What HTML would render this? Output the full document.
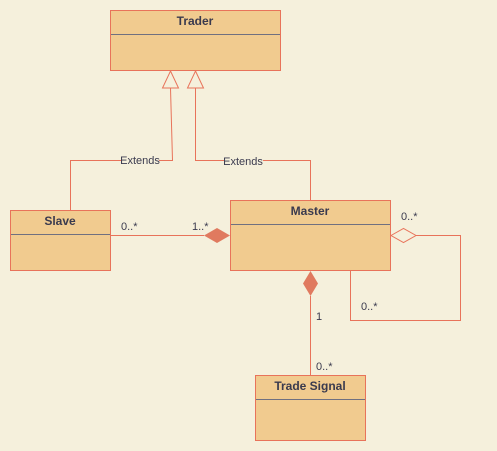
<!DOCTYPE html>
<html><head><meta charset="utf-8"><style>
html,body{margin:0;padding:0;background:#f5f0dc;width:497px;height:451px;overflow:hidden}
svg{display:block}
text{font-family:"Liberation Sans",sans-serif;fill:#3a3a4e}
.t{font-weight:bold;font-size:12px}
.s{font-size:11px}
</style></head><body>
<svg width="497" height="451">
<rect width="497" height="451" fill="#f5f0dc"/>
<g fill="none" stroke="#e8735a" stroke-width="1">
<path d="M70.5 210 V160.5 H172.5 L170.5 88"/>
<path d="M310.5 200 V160.5 H195.5 V88"/>
<path d="M110 235.5 H204"/>
<path d="M416 235.5 H460.5 V320.5 H350.5 V270"/>
<path d="M310.5 296 V375"/>
<path fill="#f5f0dc" d="M170.5 71 L178.5 88 H162.5 Z"/>
<path fill="#f5f0dc" d="M195.5 71 L203.5 88 H187.5 Z"/>
<path fill="#f5f0dc" d="M391 235.5 L403.5 228.5 L416 235.5 L403.5 242.5 Z"/>
</g>
<path fill="#e07a5f" d="M204 235.5 L217 228 L230 235.5 L217 243 Z"/>
<path fill="#e07a5f" d="M310.5 271 L318 283.5 L310.5 296 L303 283.5 Z"/>
<g stroke="#e8735a" fill="#f1cb8f">
<rect x="110.5" y="10.5" width="170" height="60"/>
<rect x="10.5" y="210.5" width="100" height="60"/>
<rect x="230.5" y="200.5" width="160" height="70"/>
<rect x="255.5" y="375.5" width="110" height="65"/>
</g>
<g stroke="#707080">
<line x1="111" y1="34.5" x2="280" y2="34.5"/>
<line x1="11" y1="234.5" x2="110" y2="234.5"/>
<line x1="231" y1="224.5" x2="390" y2="224.5"/>
<line x1="256" y1="399.5" x2="365" y2="399.5"/>
</g>
<text class="t" x="195" y="25" text-anchor="middle">Trader</text>
<text class="t" x="60" y="225" text-anchor="middle">Slave</text>
<text class="t" x="310" y="215" text-anchor="middle">Master</text>
<text class="t" x="310" y="390" text-anchor="middle">Trade Signal</text>
<rect x="121" y="154" width="38" height="12" fill="#f5f0dc"/>
<rect x="224" y="155" width="39" height="12" fill="#f5f0dc"/>
<text class="s" x="140" y="164" text-anchor="middle">Extends</text>
<text class="s" x="243" y="165" text-anchor="middle">Extends</text>
<text class="s" x="121" y="230">0..*</text>
<text class="s" x="192" y="230">1..*</text>
<text class="s" x="401" y="220">0..*</text>
<text class="s" x="361" y="310">0..*</text>
<text class="s" x="316" y="320">1</text>
<text class="s" x="316" y="370">0..*</text>
</svg>
</body></html>
